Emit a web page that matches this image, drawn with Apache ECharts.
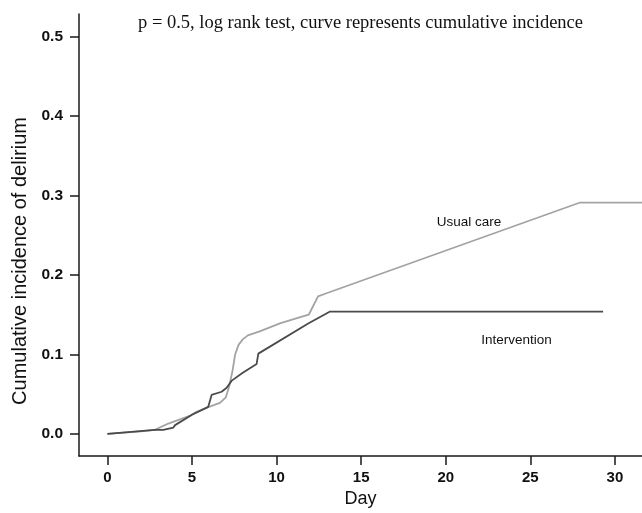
<!DOCTYPE html>
<html>
<head>
<meta charset="utf-8">
<script src="https://cdn.jsdelivr.net/npm/echarts@6/dist/echarts.min.js"></script>
<style>
html,body{margin:0;padding:0;background:#fff;}
#c{width:642px;height:513px;}
</style>
</head>
<body>
<div id="c"></div>
<script>
// Data
const xTicks = [0, 5, 10, 15, 20, 25, 30];
const yTicks = [0, 0.1, 0.2, 0.3, 0.4, 0.5];

const usualDay = [0, 2.0, 2.8, 3.6, 4.9, 5.2, 6.0, 6.65, 7.0, 7.2, 7.4, 7.55, 7.75, 8.0, 8.3, 9.0, 10.2, 11.4, 11.9, 12.45, 12.95, 27.9, 31.6];
const usualInc = [0, 0.003, 0.005, 0.013, 0.023, 0.027, 0.034, 0.039, 0.046, 0.060, 0.080, 0.100, 0.112, 0.119, 0.124, 0.129, 0.139, 0.147, 0.150, 0.173, 0.177, 0.291, 0.291];

const intDay = [0, 2.8, 3.3, 3.9, 4.0, 5.0, 5.96, 6.16, 6.75, 7.05, 7.35, 8.0, 8.82, 8.92, 11.87, 13.16, 29.3];
const intInc = [0, 0.005, 0.005, 0.008, 0.011, 0.024, 0.034, 0.049, 0.053, 0.058, 0.067, 0.077, 0.088, 0.101, 0.139, 0.154, 0.154];

const seriesNames = ['Usual care', 'Intervention'];
const titleText = 'p = 0.5, log rank test, curve represents cumulative incidence';
const xName = 'Day';
const yName = 'Cumulative incidence of delirium';

const zip = (a, b) => a.map((v, i) => [v, b[i]]);

const chart = echarts.init(document.getElementById('c'), null, {renderer: 'canvas'});
const axisColor = '#1a1a1a';
chart.setOption({
  animation: false,
  backgroundColor: '#ffffff',
  title: {
    text: titleText,
    left: 133,
    top: 9,
    textStyle: {fontFamily: 'Liberation Serif', fontSize: 18.5, fontWeight: 'normal', color: '#111'}
  },
  grid: {left: 79, right: 0, top: 14, bottom: 53.5, containLabel: false},
  xAxis: {
    type: 'value',
    min: -1.68,
    max: 31.6,
    name: xName,
    nameLocation: 'middle',
    nameGap: 33,
    nameTextStyle: {fontFamily: 'Liberation Sans', fontSize: 18, color: '#111'},
    axisLine: {show: true, onZero: false, lineStyle: {color: axisColor, width: 1.5}},
    axisTick: {show: true, customValues: xTicks, length: 9, lineStyle: {color: axisColor, width: 1.5}},
    axisLabel: {show: true, customValues: xTicks, margin: 14, fontFamily: 'Liberation Sans', fontSize: 15, fontWeight: 'bold', color: '#111'},
    splitLine: {show: false}
  },
  yAxis: {
    type: 'value',
    min: -0.028,
    max: 0.5286,
    axisLine: {show: true, onZero: false, lineStyle: {color: axisColor, width: 1.5}},
    axisTick: {show: true, customValues: yTicks, length: 9, lineStyle: {color: axisColor, width: 1.5}},
    axisLabel: {show: true, customValues: yTicks, margin: 16, fontFamily: 'Liberation Sans', fontSize: 15.5, fontWeight: 'bold', color: '#111',
      formatter: v => v.toFixed(1)},
    splitLine: {show: false}
  },
  graphic: [{
    type: 'text',
    left: 10,
    top: 117,
    rotation: Math.PI / 2,
    style: {text: yName, fontFamily: 'Liberation Sans', fontSize: 20, fill: '#111'}
  }],
  series: [
    {
      name: seriesNames[0],
      type: 'line',
      data: zip(usualDay, usualInc),
      showSymbol: false,
      symbol: 'none',
      lineStyle: {color: '#a3a3a3', width: 1.8},
      markPoint: {
        symbol: 'circle', symbolSize: 0,
        label: {show: true, position: 'inside', formatter: seriesNames[0], fontFamily: 'Liberation Sans', fontSize: 13.5, color: '#111'},
        data: [{coord: [21.37, 0.267]}]
      }
    },
    {
      name: seriesNames[1],
      type: 'line',
      data: zip(intDay, intInc),
      showSymbol: false,
      symbol: 'none',
      lineStyle: {color: '#4a4a4a', width: 1.8},
      markPoint: {
        symbol: 'circle', symbolSize: 0,
        label: {show: true, position: 'inside', formatter: seriesNames[1], fontFamily: 'Liberation Sans', fontSize: 13.5, color: '#111'},
        data: [{coord: [24.18, 0.118]}]
      }
    }
  ]
});
</script>
</body>
</html>
